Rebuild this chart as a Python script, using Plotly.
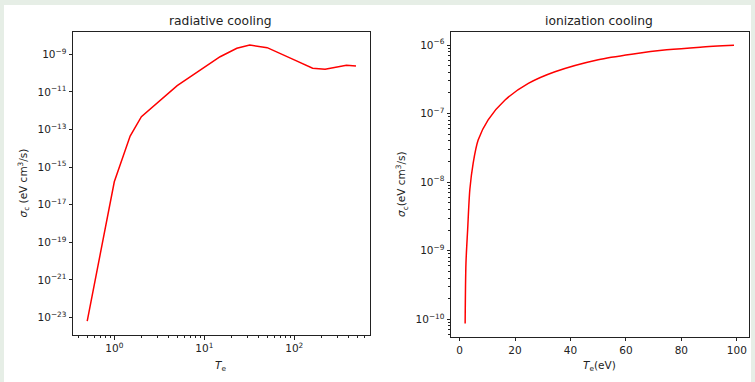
import plotly.graph_objects as go

# ---- data ----
rad_T = [0.5, 1.0, 1.5, 2.0, 5.0, 15, 23, 32, 50, 70, 100, 160, 220, 380, 485]
rad_sigma = [6.46e-24, 1.66e-16, 4.47e-14, 4.79e-13, 2.14e-11, 7.41e-10, 2.09e-9,
             3.09e-9, 2.24e-9, 1.12e-9, 5.0e-10, 1.80e-10, 1.58e-10, 2.60e-10, 2.40e-10]

ion_T = [2, 2.3, 2.9, 3.7, 4.9, 6.7, 10.3, 16.4, 24.8, 34.4, 50, 62.7, 74.7, 86.8, 99]
ion_sigma = [8.7e-11, 6.6e-10, 2.0e-9, 7.8e-9, 1.9e-8, 4.1e-8, 8.1e-8, 1.58e-7,
             2.75e-7, 4.07e-7, 6.1e-7, 7.4e-7, 8.5e-7, 9.3e-7, 9.9e-7]

rad_xticks = [1, 10, 100]
rad_xticktext = ["10<sup>0</sup>", "10<sup>1</sup>", "10<sup>2</sup>"]
rad_yexp = [-9, -11, -13, -15, -17, -19, -21, -23]
ion_yexp = [-6, -7, -8, -9, -10]
ion_xticks = [0, 20, 40, 60, 80, 100]

W, H = 755, 382
FONT = "DejaVu Sans"

def px_x(p):
    return p / W

def px_y(p):
    return 1 - p / H

fig = go.Figure()
fig.add_trace(go.Scatter(x=rad_T, y=rad_sigma, mode="lines",
                         line=dict(color="#ff0000", width=1.5),
                         xaxis="x", yaxis="y", showlegend=False))
fig.add_trace(go.Scatter(x=ion_T, y=ion_sigma, mode="lines",
                         line=dict(color="#ff0000", width=1.5, shape="spline", smoothing=0.8),
                         xaxis="x2", yaxis="y2", showlegend=False))

common = dict(showgrid=False, zeroline=False, showline=True, mirror=True,
              linecolor="#222", linewidth=1, ticks="outside", ticklen=3.5,
              tickwidth=0.8, tickcolor="#222",
              tickfont=dict(family=FONT, size=10.5, color="#222"))

def sup(e):
    return "10<sup>" + ("\u2212" + str(-e) if e < 0 else str(e)) + "</sup>"

minor_x_rad = [m * 10 ** d for d in range(-1, 3) for m in range(2, 10)]
minor_y_ion = [m * 10 ** d for d in range(-11, -5) for m in range(2, 10)]

def ann(text, x, y, size=10.5, angle=0):
    return dict(text=text, x=px_x(x), y=px_y(y), xref="paper", yref="paper",
                xanchor="center", yanchor="middle", textangle=angle, showarrow=False,
                font=dict(family=FONT, size=size, color="#222"))

fig.update_layout(
    width=W, height=H,
    margin=dict(l=0, r=0, t=0, b=0),
    paper_bgcolor="#e6eee6", plot_bgcolor="white",
    xaxis=dict(common, type="log", domain=[px_x(73), px_x(369.5)],
               range=[-0.459, 2.836], anchor="y",
               tickmode="array", tickvals=rad_xticks, ticktext=rad_xticktext,
               minor=dict(tickmode="array", tickvals=minor_x_rad, ticks="outside",
                          ticklen=2, tickwidth=0.6, tickcolor="#222")),
    yaxis=dict(common, type="log", domain=[px_y(335), px_y(31.7)],
               range=[-23.93, -7.80], anchor="x",
               tickmode="array", tickvals=[10 ** e for e in rad_yexp],
               ticktext=[sup(e) for e in rad_yexp]),
    xaxis2=dict(common, type="linear", domain=[px_x(451), px_x(748.7)],
                range=[-3.1, 104.3], anchor="y2",
                tickmode="array", tickvals=ion_xticks,
                ticktext=[str(v) for v in ion_xticks]),
    yaxis2=dict(common, type="log", domain=[px_y(336.7), px_y(31.7)],
                range=[-10.254, -5.806], anchor="x2",
                tickmode="array", tickvals=[10 ** e for e in ion_yexp],
                ticktext=[sup(e) for e in ion_yexp],
                minor=dict(tickmode="array", tickvals=minor_y_ion, ticks="outside",
                           ticklen=2, tickwidth=0.6, tickcolor="#222")),
    shapes=[dict(type="rect", xref="paper", yref="paper", layer="below",
                 x0=px_x(4), x1=px_x(751), y0=-0.01, y1=px_y(5),
                 fillcolor="white", line=dict(width=0))],
    annotations=[
        ann("radiative cooling", 220.5, 21, size=12.3),
        ann("ionization cooling", 599, 21, size=12.3),
        ann("<i>σ</i><sub>c</sub> (eV cm<sup>3</sup>/s)", 23, 183.5, angle=-90),
        ann("<i>σ</i><sub>c</sub>(eV cm<sup>3</sup>/s)", 402, 184, angle=-90),
        ann("<i>T</i><sub>e</sub>", 220.5, 366),
        ann("<i>T</i><sub>e</sub>(eV)", 599, 366),
    ],
)

fig.write_html("out.html")
